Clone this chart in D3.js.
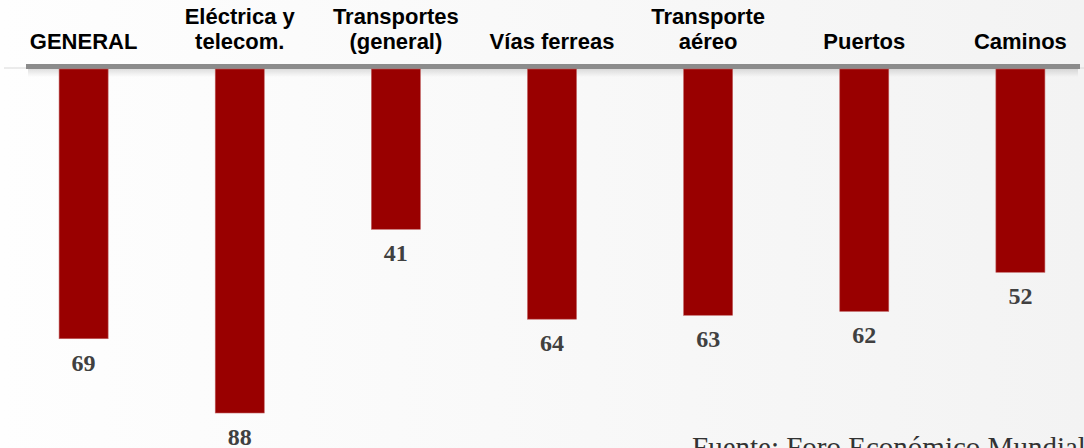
<!DOCTYPE html>
<html>
<head>
<meta charset="utf-8">
<script src="https://cdn.jsdelivr.net/npm/d3@7"></script>
<style>
  body { margin: 0; background: #fff; }
</style>
</head>
<body>
<div id="chart"></div>
<script>
var w = 1084;
var h = 448;

var categories = [["GENERAL"], ["Eléctrica y", "telecom."], ["Transportes", "(general)"], ["Vías ferreas"], ["Transporte", "aéreo"], ["Puertos"], ["Caminos"]];
var values = [69, 88, 41, 64, 63, 62, 52];
var source = "Fuente: Foro Económico Mundial";

var xScale = d3.scaleBand()
			.domain(d3.range(values.length))
			.range([6, 1098])
			.paddingInner(0.686)
			.paddingOuter(0.34);

var yScale = d3.scaleLinear()
			.domain([0, 88])
			.range([69, 413]);

//Create SVG element
var svg = d3.select("#chart")
		.append("svg")
		.attr("width", w)
		.attr("height", h);

var defs = svg.append("defs");
var bg = defs.append("linearGradient").attr("id", "bg").attr("x1", 0).attr("x2", 1).attr("y1", 0).attr("y2", 0);
bg.append("stop").attr("offset", "0%").attr("stop-color", "#fefefe");
bg.append("stop").attr("offset", "100%").attr("stop-color", "#f3f3f3");
var sh = defs.append("linearGradient").attr("id", "sh").attr("x1", 0).attr("x2", 0).attr("y1", 0).attr("y2", 1);
sh.append("stop").attr("offset", "0%").attr("stop-color", "#000").attr("stop-opacity", 0.12);
sh.append("stop").attr("offset", "100%").attr("stop-color", "#000").attr("stop-opacity", 0);

svg.append("rect").attr("width", w).attr("height", h).attr("fill", "url(#bg)");

// axis line with shadow
svg.append("line").attr("x1", 4).attr("x2", w).attr("y1", 68).attr("y2", 68)
	.attr("stroke", "#d8d8d8").attr("stroke-width", 1);
svg.append("rect").attr("x", 28).attr("y", 69).attr("width", 1050).attr("height", 8).attr("fill", "url(#sh)");
svg.append("rect").attr("x", 26).attr("y", 64).attr("width", 1054).attr("height", 5).attr("fill", "#8c8c8c");

//Create bars
svg.selectAll("rect.bar")
.data(values)
.enter()
.append("rect")
.attr("class", "bar")
.attr("x", function(d, i) { return xScale(i); })
.attr("y", yScale(0))
.attr("width", xScale.bandwidth())
.attr("height", function(d) { return yScale(d) - yScale(0); })
.attr("fill", "#990000")
.attr("stroke", "#c06060")
.attr("stroke-width", 0.6);

//Create value labels
svg.selectAll("text.val")
.data(values)
.enter()
.append("text")
.attr("class", "val")
.text(function(d) { return d; })
.attr("text-anchor", "middle")
.attr("x", function(d, i) { return xScale(i) + xScale.bandwidth() / 2; })
.attr("y", function(d) { return yScale(d) + 32; })
.attr("font-family", "'Liberation Serif', serif")
.attr("font-weight", "bold")
.attr("font-size", "24px")
.attr("fill", "#404040");

//Category labels
var cat = svg.selectAll("text.cat")
.data(categories)
.enter()
.append("text")
.attr("class", "cat")
.attr("text-anchor", "middle")
.attr("x", function(d, i) { return xScale(i) + xScale.bandwidth() / 2; })
.attr("font-family", "'Liberation Sans', Arial, sans-serif")
.attr("font-weight", "bold")
.attr("font-size", "22px")
.attr("fill", "#000");

cat.selectAll("tspan")
.data(function(d) { return d; })
.enter()
.append("tspan")
.attr("x", function() { return d3.select(this.parentNode).attr("x"); })
.attr("y", function(d, j, nodes) { return 49 - (nodes.length - 1 - j) * 25; })
.text(function(d) { return d; });

// source
svg.append("text")
.attr("x", 692)
.attr("y", 457)
.attr("font-family", "'Liberation Serif', 'Times New Roman', serif")
.attr("font-size", "29px")
.attr("fill", "#333")
.text(source);
</script>
</body>
</html>
